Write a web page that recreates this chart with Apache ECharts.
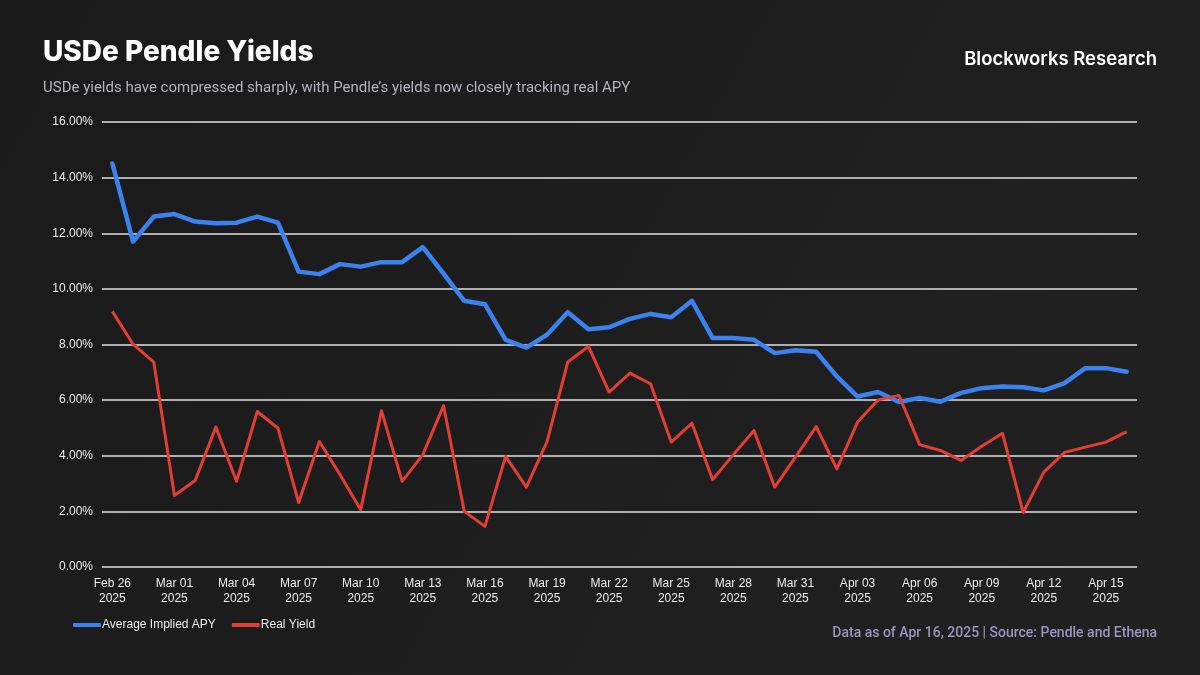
<!DOCTYPE html>
<html>
<head>
<meta charset="utf-8">
<script src="https://cdn.jsdelivr.net/npm/echarts@6/dist/echarts.min.js"></script>
<style>
html,body{margin:0;padding:0;background:#1c1c1c;}
#main{width:1200px;height:675px;}
</style>
</head>
<body>
<div id="main"></div>
<script>
const dates = ['Feb 26','Feb 27','Feb 28',
 'Mar 01','Mar 02','Mar 03','Mar 04','Mar 05','Mar 06','Mar 07','Mar 08','Mar 09','Mar 10',
 'Mar 11','Mar 12','Mar 13','Mar 14','Mar 15','Mar 16','Mar 17','Mar 18','Mar 19','Mar 20',
 'Mar 21','Mar 22','Mar 23','Mar 24','Mar 25','Mar 26','Mar 27','Mar 28','Mar 29','Mar 30','Mar 31',
 'Apr 01','Apr 02','Apr 03','Apr 04','Apr 05','Apr 06','Apr 07','Apr 08','Apr 09','Apr 10',
 'Apr 11','Apr 12','Apr 13','Apr 14','Apr 15','Apr 16'];
const year = '2025';
const impliedAPY = [14.51,11.70,12.60,12.69,12.42,12.36,12.38,12.60,12.38,10.62,
 10.53,10.89,10.80,10.96,10.96,11.50,10.55,9.57,9.45,8.17,
 7.89,8.35,9.16,8.55,8.62,8.92,9.10,8.98,9.57,8.23,
 8.23,8.17,7.69,7.79,7.74,6.85,6.13,6.29,5.93,6.08,
 5.94,6.26,6.43,6.49,6.46,6.35,6.61,7.15,7.15,7.02];
const realYield = [9.19,8.01,7.37,2.57,3.11,5.03,3.08,5.59,4.99,2.32,
 4.51,3.32,2.06,5.62,3.08,4.04,5.80,2.00,1.46,3.98,
 2.87,4.51,7.37,7.93,6.29,6.97,6.59,4.49,5.17,3.14,
 4.04,4.91,2.87,3.95,5.05,3.53,5.21,6.01,6.17,4.40,
 4.19,3.83,4.34,4.81,1.96,3.41,4.12,4.31,4.49,4.87];
const yTicks = {min:0, max:16, interval:2};

const chart = echarts.init(document.getElementById('main'));
chart.setOption({
  backgroundColor: new echarts.graphic.LinearGradient(0,0,1,1,[{offset:0,color:'#1a1a1a'},{offset:1,color:'#212121'}]),
  animation: false,
  title: [
    {text:'USDe Pendle Yields', left:38, top:34, textStyle:{color:'#ffffff', fontFamily:'Inter', fontWeight:800, fontSize:28}},
    {text:'USDe yields have compressed sharply, with Pendle\u2019s yields now closely tracking real APY', left:38, top:76, textStyle:{color:'#b4b4bc', fontFamily:'Roboto', fontWeight:'normal', fontSize:15}},
    {text:'Blockworks Research', right:38, top:45, textStyle:{color:'#ffffff', fontFamily:'Inter', fontWeight:600, fontSize:18.5}},
    {text:'Data as of Apr 16, 2025 | Source: Pendle and Ethena', right:38, top:621, textStyle:{color:'#9d95bd', fontFamily:'Roboto', fontWeight:500, fontSize:14}}
  ],
  legend: {
    left: 68, top: 614, icon:'roundRect', itemWidth: 28, itemHeight: 4, itemGap: 16,
    textStyle:{color:'#ececec', fontFamily:'Liberation Sans', fontSize:12, padding:[0,0,0,-4]},
    data:['Average Implied APY','Real Yield']
  },
  grid: {left:102, right:63, top:122, bottom:108},
  xAxis: {
    type:'category', data: dates, boundaryGap:true,
    axisLine:{show:false}, axisTick:{show:false},
    axisLabel:{interval:2, color:'#ececec', fontFamily:'Liberation Sans', fontSize:12, lineHeight:15, margin:9,
      formatter: v => v + '\n' + year}
  },
  yAxis: {
    type:'value', min:yTicks.min, max:yTicks.max, interval:yTicks.interval,
    axisLine:{show:false}, axisTick:{show:false},
    axisLabel:{color:'#ececec', fontFamily:'Liberation Sans', fontSize:12, margin:9, formatter: v => v.toFixed(2)+'%'},
    splitLine:{lineStyle:{color:'#e0e0e0', width:1.5}}
  },
  series: [
    {name:'Average Implied APY', type:'line', data: impliedAPY, showSymbol:false, symbol:'none', z:3,
      lineStyle:{color:'#3b82ee', width:4.5, join:'round', cap:'round'}, itemStyle:{color:'#3b82ee'}},
    {name:'Real Yield', type:'line', data: realYield, showSymbol:false, symbol:'none', z:4,
      lineStyle:{color:'#e43d35', width:3, join:'round'}, itemStyle:{color:'#e43d35'}}
  ]
});
</script>
</body>
</html>
